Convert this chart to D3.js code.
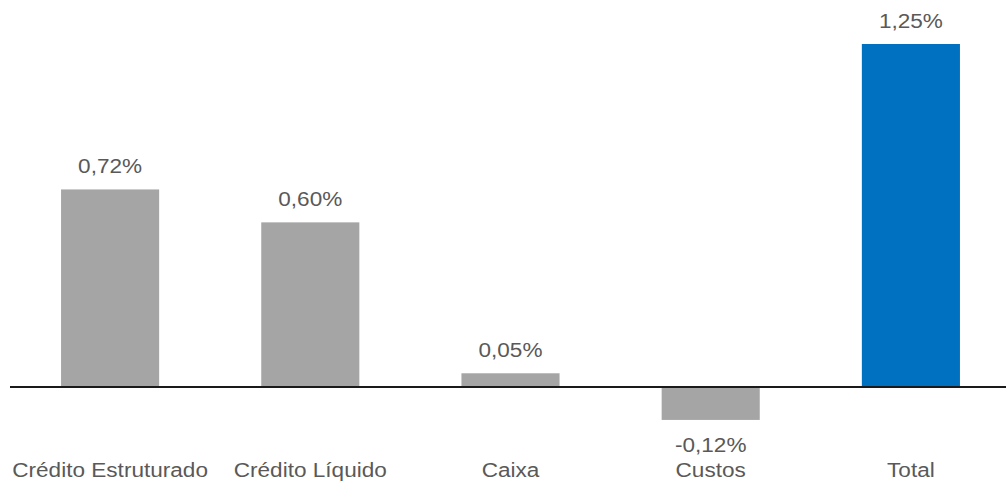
<!DOCTYPE html>
<html>
<head>
<meta charset="utf-8">
<script src="https://cdn.jsdelivr.net/npm/d3@7"></script>
<style>
  body { margin: 0; background: #fff; }
  svg text { font-family: Arial, "Liberation Sans", sans-serif; }
</style>
</head>
<body>
<div id="chart"></div>
<script>
var categories = ["Crédito Estruturado", "Crédito Líquido", "Caixa", "Custos", "Total"];
var values = [0.72, 0.60, 0.05, -0.12, 1.25];
var valueLabels = ["0,72%", "0,60%", "0,05%", "-0,12%", "1,25%"];

var width = 1006, height = 483;
var grayColor = "#a5a5a5";
var blueColor = "#0070c0";
var textColor = "#595959";
var stretch = 1.075; // source text looks a bit wider than plain Arial

var svg = d3.select("#chart")
    .append("svg")
    .attr("width", width)
    .attr("height", height);

var x = d3.scaleBand()
    .domain(categories)
    .range([10, 1011])
    .paddingInner(0.51)
    .paddingOuter(0.255);

// 1.25 -> y 44, 0 -> y 387
var y = d3.scaleLinear()
    .domain([0, 1.25])
    .range([387, 44]);

svg.selectAll("rect.bar")
    .data(values)
    .enter()
    .append("rect")
    .attr("class", "bar")
    .attr("x", (d, i) => x(categories[i]))
    .attr("width", x.bandwidth())
    .attr("y", d => Math.min(y(d), y(0)))
    .attr("height", d => Math.abs(y(d) - y(0)))
    .attr("fill", (d, i) => i === categories.length - 1 ? blueColor : grayColor);

// baseline
svg.append("line")
    .attr("x1", 10)
    .attr("x2", width)
    .attr("y1", y(0))
    .attr("y2", y(0))
    .attr("stroke", "#1a1a1a")
    .attr("stroke-width", 2);

// value labels
svg.selectAll("text.value")
    .data(values)
    .enter()
    .append("text")
    .attr("class", "value")
    .attr("transform", (d, i) => {
        var cx = x(categories[i]) + x.bandwidth() / 2;
        var cy = d >= 0 ? y(d) - 16 : y(d) + 32;
        return `translate(${cx},${cy}) scale(${stretch},1)`;
    })
    .attr("text-anchor", "middle")
    .attr("font-size", "21px")
    .attr("fill", textColor)
    .text((d, i) => valueLabels[i]);

// category labels
svg.selectAll("text.cat")
    .data(categories)
    .enter()
    .append("text")
    .attr("class", "cat")
    .attr("transform", d => `translate(${x(d) + x.bandwidth() / 2},477) scale(${stretch},1)`)
    .attr("text-anchor", "middle")
    .attr("font-size", "21px")
    .attr("fill", textColor)
    .text(d => d);
</script>
</body>
</html>
